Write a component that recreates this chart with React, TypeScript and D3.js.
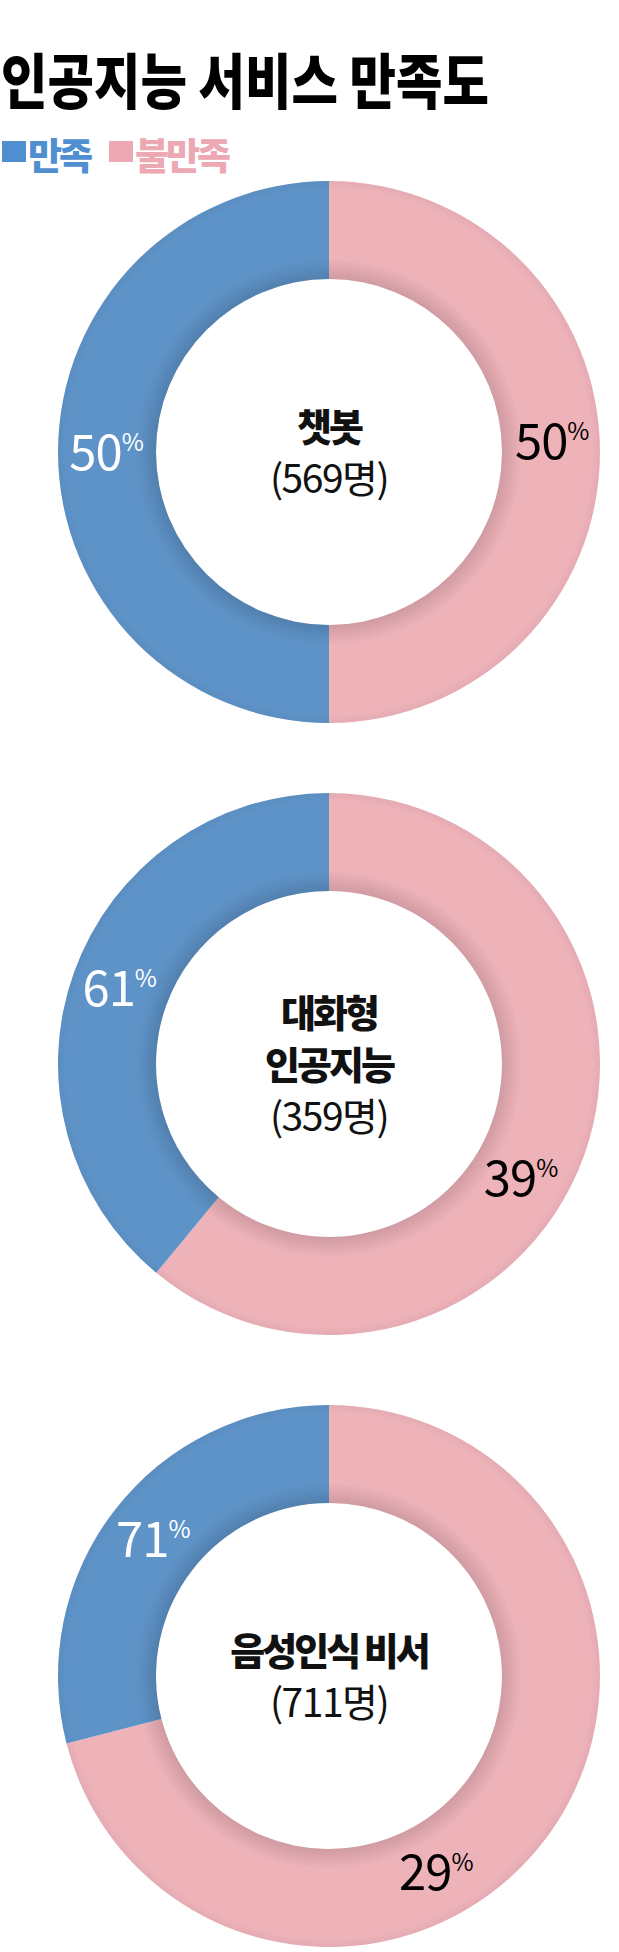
import * as d3 from 'd3';

// 만족 / 불만족 shares as printed on each ring, respondents per service
const services = ['챗봇', '대화형 인공지능', '음성인식 비서'];
const nameLines = [['챗봇'], ['대화형', '인공지능'], ['음성인식 비서']];
const respondents = [569, 359, 711];
const satisfied = [50, 61, 71];
const dissatisfied = [50, 39, 29];
const legendLabels = ['만족', '불만족'];

const W = 619;
const H = 1952;
const BLUE = '#5e93c8';
const PINK = '#eeb2b9';
const FONT = "'Noto Sans CJK KR', 'Noto Sans', sans-serif";

const cx = 329;
const rOuter = 271;
const rInner = 173;
const labelR = 223;
const cy = d3.scaleLinear().domain([0, 2]).range([452, 1676]);

type Slice = { key: 'pink' | 'blue'; value: number; label: number };

export default function App() {
  // the original ring draws the pink arc with the 만족 share (clockwise from 12 o'clock)
  // and the blue arc with the 불만족 share, while the labels read the other way round; kept as drawn
  const pie = d3.pie<Slice>().sort(null).value((d) => d.value);
  const arc = d3.arc<d3.PieArcDatum<Slice>>().innerRadius(rInner).outerRadius(rOuter);
  const ring = d3.arc()({ innerRadius: rInner, outerRadius: rOuter, startAngle: 0, endAngle: 2 * Math.PI }) ?? '';

  const pctLabel = (value: number, x: number, y: number, fill: string, key: string) => (
    <text key={key} x={x} y={y + 18} textAnchor="middle" fill={fill} fontFamily={FONT} fontSize={49} letterSpacing={-1}>
      {value}
      <tspan fontSize={24} dy={-19}>%</tspan>
    </text>
  );

  return (
    <div style={{ position: 'absolute', left: 0, top: 0 }}>
      <svg width={W} height={H} style={{ display: 'block', background: '#fff' }}>
        <defs>
          <radialGradient id="shade" gradientUnits="userSpaceOnUse" cx={0} cy={0} r={rOuter}>
            <stop offset={rInner / rOuter} stopColor="#000" stopOpacity={0.13} />
            <stop offset={(rInner + 20) / rOuter} stopColor="#000" stopOpacity={0} />
            <stop offset={0.97} stopColor="#000" stopOpacity={0} />
            <stop offset={1} stopColor="#000" stopOpacity={0.04} />
          </radialGradient>
        </defs>

        <text
          x={1}
          y={104}
          fontFamily={FONT}
          fontWeight={900}
          fontSize={60}
          textLength={488}
          lengthAdjust="spacingAndGlyphs"
          fill="#000"
        >
          인공지능 서비스 만족도
        </text>

        <g fontFamily={FONT} fontWeight={900} fontSize={37} letterSpacing={-3}>
          <rect x={2} y={141} width={24} height={21} fill="#4f8fd0" />
          <text x={28} y={170} fill="#4f8fd0">{legendLabels[0]}</text>
          <rect x={109} y={141} width={24} height={21} fill="#eca8b3" />
          <text x={135} y={170} fill="#eca8b3">{legendLabels[1]}</text>
        </g>

        {services.map((name, i) => {
          const slices = pie([
            { key: 'pink', value: satisfied[i], label: dissatisfied[i] },
            { key: 'blue', value: dissatisfied[i], label: satisfied[i] },
          ]);
          const lines = [...nameLines[i], `(${respondents[i]}명)`];
          const step = 52;
          return (
            <g key={name} transform={`translate(${cx},${cy(i)})`}>
              {slices.map((s) => (
                <path key={s.data.key} d={arc(s) ?? ''} fill={s.data.key === 'pink' ? PINK : BLUE} />
              ))}
              <path d={ring} fill="url(#shade)" />
              {slices.map((s) => {
                const span = s.endAngle - s.startAngle;
                let a = (s.startAngle + s.endAngle) / 2;
                if (s.data.key === 'pink') a += (span - Math.PI) * 0.35 - 0.05;
                const x = labelR * Math.sin(a);
                const y = -labelR * Math.cos(a);
                return pctLabel(s.data.label, x, y, s.data.key === 'pink' ? '#000' : '#fff', s.data.key);
              })}
              {lines.map((ln, j) => {
                const isCount = j === lines.length - 1;
                const yc = (j - (lines.length - 1) / 2) * step + 1;
                return (
                  <text
                    key={j}
                    x={0}
                    y={yc + 0.37 * 38}
                    textAnchor="middle"
                    fontFamily={FONT}
                    fontWeight={isCount ? 400 : 900}
                    fontSize={isCount ? 39 : 38}
                    letterSpacing={isCount ? -1.5 : -3}
                    fill="#111"
                  >
                    {ln}
                  </text>
                );
              })}
            </g>
          );
        })}
      </svg>
    </div>
  );
}
